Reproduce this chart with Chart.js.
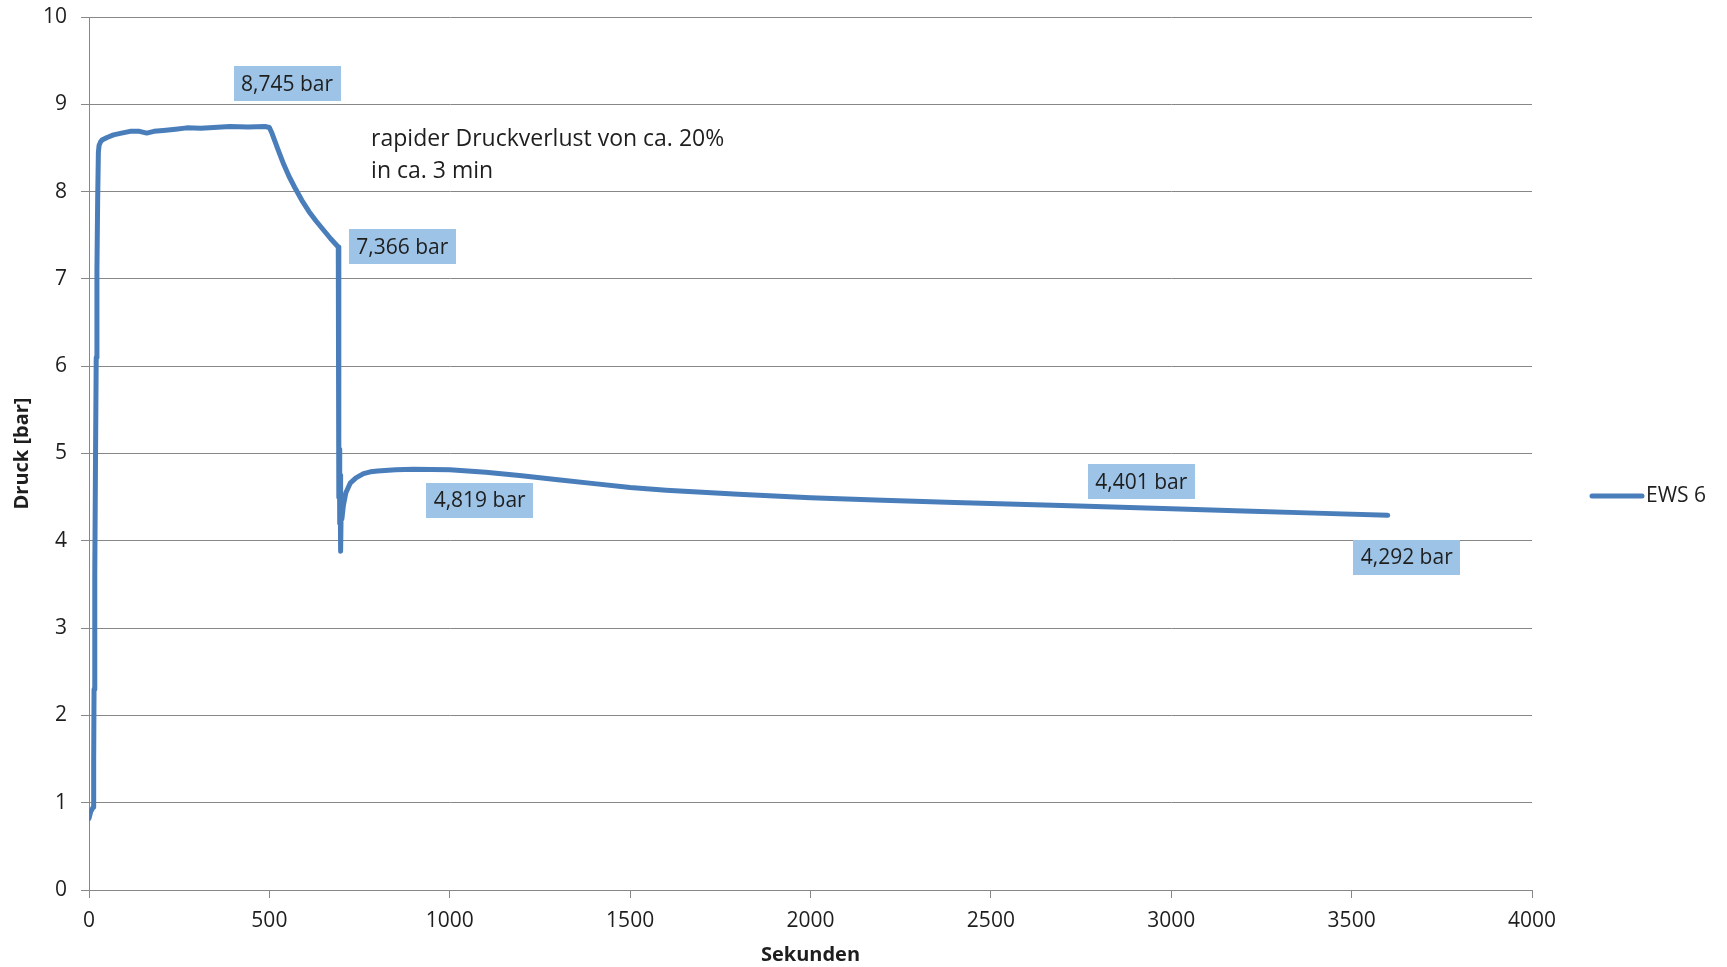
<!DOCTYPE html>
<html lang="de">
<head>
<meta charset="utf-8">
<title>EWS 6 – Druckverlauf</title>
<script src="https://cdn.jsdelivr.net/npm/chart.js@4.4.1/dist/chart.umd.min.js"></script>
<style>
  html, body { margin: 0; padding: 0; background: #ffffff; }
  canvas { display: block; }
</style>
</head>
<body>
<canvas id="chart" width="1727" height="967"></canvas>
<script>
// Messzeit in Sekunden und gemessener Druck in bar (Sonde EWS 6)
const seconds = [
  0, 5, 12, 13, 14, 16, 18, 20, 22, 24, 26, 28, 32, 36, 50, 68, 90, 114, 140, 160, 180, 206,
  240, 271, 310, 345, 391, 440, 488, 500, 506, 515, 525, 540, 555, 570, 590, 610, 630, 650, 670, 691,
  692, 693, 694, 695, 696, 697, 698, 699, 701, 705, 712, 724, 740, 761, 780, 800, 850, 900,
  1000, 1100, 1200, 1300, 1400, 1500, 1600, 1700, 1800, 2000, 2200, 2400, 2720, 3000,
  3200, 3400, 3600
];
const pressure = [
  0.82, 0.90, 0.95, 1.50, 2.30, 3.60, 4.90, 6.10, 7.10, 7.90, 8.45, 8.53, 8.57, 8.59, 8.62, 8.65, 8.67, 8.69, 8.69, 8.67, 8.69, 8.70,
  8.715, 8.73, 8.725, 8.735, 8.745, 8.74, 8.745, 8.735, 8.68, 8.58, 8.47, 8.31, 8.17, 8.05, 7.90, 7.77, 7.66, 7.56, 7.46, 7.366,
  5.10, 4.50, 5.05, 4.20, 4.75, 4.12, 3.88, 4.35, 4.25, 4.40, 4.55, 4.66, 4.72, 4.77, 4.79, 4.80, 4.815, 4.819,
  4.815, 4.785, 4.745, 4.70, 4.655, 4.61, 4.58, 4.555, 4.532, 4.494, 4.465, 4.44, 4.401, 4.366,
  4.341, 4.317, 4.292
];

// Zeitpunkte mit beschrifteten Messwerten
const labelledSeconds = [488, 691, 900, 2720, 3600];
// Versatz der Wertefelder gegenüber dem jeweiligen Messpunkt (px)
const labelOffsets = [[22, -43], [64, 0], [66, 31], [71, -24], [19, 42]];

// Achsenbeschriftungen
const seriesName = 'EWS 6';
const xTitle = 'Sekunden';
const yTitle = 'Druck [bar]';
const noteLines = ['rapider Druckverlust von ca. 20%', 'in ca. 3 min'];
const notePosition = { x: 782, y: 8.6 };

const FONT = '"Open Sans", "Noto Sans", sans-serif';
const LINE_BLUE = '#4A7EBB';
const BOX_BLUE = '#9DC3E6';
const GRID = '#878787';
const TEXT = '#1E1E1E';

const fmt = v => v.toFixed(3).replace('.', ',') + ' bar';

const overlayPlugin = {
  id: 'overlay',
  afterDatasetsDraw(chart) {
    const { ctx, scales: { x, y } } = chart;
    ctx.save();

    // Wertefelder
    ctx.font = '21px ' + FONT;
    ctx.textBaseline = 'middle';
    ctx.textAlign = 'center';
    labelledSeconds.forEach((t, i) => {
      const idx = seconds.indexOf(t);
      const v = pressure[idx];
      const text = fmt(v);
      const cx = x.getPixelForValue(t) + labelOffsets[i][0];
      const cy = y.getPixelForValue(v) + labelOffsets[i][1];
      const w = ctx.measureText(text).width + 15;
      const h = 35;
      ctx.fillStyle = BOX_BLUE;
      ctx.fillRect(Math.round(cx - w / 2), Math.round(cy - h / 2), Math.round(w), h);
      ctx.fillStyle = TEXT;
      ctx.fillText(text, cx, cy + 1);
    });

    // Hinweistext
    ctx.textAlign = 'left';
    ctx.font = '23px ' + FONT;
    const nx = x.getPixelForValue(notePosition.x);
    const ny = y.getPixelForValue(notePosition.y);
    noteLines.forEach((line, i) => ctx.fillText(line, nx, ny + i * 32));

    // Legende
    const lx = chart.chartArea.right + 60;
    const ly = 496;
    ctx.strokeStyle = LINE_BLUE;
    ctx.lineWidth = 5;
    ctx.lineCap = 'round';
    ctx.beginPath();
    ctx.moveTo(lx, ly);
    ctx.lineTo(lx + 50, ly);
    ctx.stroke();
    ctx.fillStyle = TEXT;
    ctx.font = '21px ' + FONT;
    ctx.fillText(seriesName, lx + 54, ly);
    ctx.restore();
  }
};

new Chart(document.getElementById('chart'), {
  type: 'line',
  data: {
    datasets: [{
      label: seriesName,
      data: seconds.map((t, i) => ({ x: t, y: pressure[i] })),
      borderColor: LINE_BLUE,
      backgroundColor: LINE_BLUE,
      borderWidth: 5,
      pointRadius: 0,
      tension: 0,
      borderJoinStyle: 'round',
      borderCapStyle: 'round',
      fill: false
    }]
  },
  options: {
    responsive: false,
    animation: false,
    layout: { padding: { left: 0, top: 17, right: 195, bottom: 0 } },
    plugins: { legend: { display: false }, tooltip: { enabled: false } },
    scales: {
      x: {
        type: 'linear',
        min: 0,
        max: 4000,
        ticks: { stepSize: 500, color: TEXT, font: { family: FONT, size: 21 }, padding: 10, maxRotation: 0,
                 callback: v => String(v) },
        grid: { drawOnChartArea: false, drawTicks: true, tickLength: 8, color: GRID, lineWidth: 1 },
        border: { display: true, color: GRID, width: 1 },
        title: { display: true, text: xTitle, color: TEXT, font: { family: FONT, size: 20, weight: 'bold' }, padding: { top: 0, bottom: 0 } },
        afterFit(scale) { scale.height = 77; }
      },
      y: {
        min: 0,
        max: 10,
        ticks: { stepSize: 1, color: TEXT, font: { family: FONT, size: 21 }, padding: 14 },
        grid: { color: GRID, lineWidth: 1, tickLength: 8 },
        border: { display: true, color: GRID, width: 1 },
        title: { display: true, text: yTitle, color: TEXT, font: { family: FONT, size: 20, weight: 'bold' }, padding: { top: 10, bottom: 0 } },
        afterFit(scale) {
          scale.width = 89;
          scale.paddingTop = 0;
          scale.paddingBottom = 0;
        }
      }
    }
  },
  plugins: [overlayPlugin]
});
</script>
</body>
</html>
